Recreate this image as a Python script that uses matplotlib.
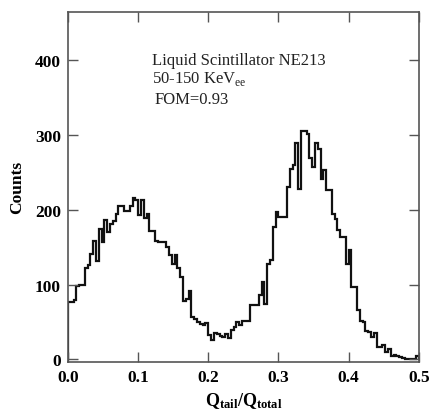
import numpy as np
import matplotlib
matplotlib.use("Agg")
import matplotlib.pyplot as plt

plt.rcParams['font.family'] = ['Liberation Serif', 'DejaVu Serif']
plt.rcParams['mathtext.fontset'] = 'custom'
plt.rcParams['mathtext.rm'] = 'Liberation Serif'
plt.rcParams['mathtext.bf'] = 'Liberation Serif:bold'

# Histogram: 125 bins of width 0.004 from 0 to 0.5
bin_edges = np.linspace(0.0, 0.5, 126)
counts = [
    77, 77, 80, 98, 100, 100, 122, 126, 141, 158,
    132, 174, 157, 186, 170, 181, 185, 194, 205, 205,
    198, 198, 205, 216, 213, 193, 213, 189, 194, 172,
    172, 159, 157, 157, 157, 150, 140, 128, 140, 122,
    110, 78, 81, 92, 57, 54, 50, 47, 46, 49,
    33, 26, 36, 34, 32, 30, 34, 28, 39, 43,
    50, 46, 52, 52, 52, 73, 73, 73, 86, 103,
    74, 128, 133, 177, 197, 191, 190, 190, 231, 255,
    260, 289, 228, 305, 305, 302, 270, 257, 289, 281,
    241, 253, 226, 226, 195, 188, 173, 164, 164, 127,
    146, 97, 97, 66, 52, 50, 38, 37, 30, 35,
    16, 16, 19, 10, 14, 5, 6, 4, 3, 2,
    1, 1, 1, 1, 4,
]
x_ticks = [0.0, 0.1, 0.2, 0.3, 0.4, 0.5]
x_tick_labels = ["0.0", "0.1", "0.2", "0.3", "0.4", "0.5"]
y_ticks = [0, 100, 200, 300, 400]
y_tick_labels = ["0", "100", "200", "300", "400"]

fig = plt.figure(figsize=(4.30, 4.14), dpi=100)
ax = fig.add_axes([0.158, 0.124, 0.816, 0.845])

ax.stairs(counts, bin_edges, color='#111111', linewidth=1.6)

ax.set_xlim(0.0, 0.5)
ax.set_ylim(-3, 465)
ax.set_xticks(x_ticks)
ax.set_xticklabels(x_tick_labels)
ax.set_yticks(y_ticks)
ax.set_yticklabels(y_tick_labels)
ax.tick_params(direction='in', top=True, right=True, length=7, width=1.0,
               labelsize=12.5, color='#555555', pad=5)
for lab in ax.get_xticklabels() + ax.get_yticklabels():
    lab.set_fontweight('bold')
for s in ax.spines.values():
    s.set_linewidth(1.2)
    s.set_color('#555555')

ax.set_ylabel('Counts', fontsize=12.5, fontweight='bold', labelpad=7)
ax.set_xlabel(r'$\mathbf{Q_{tail}/Q_{total}}$', fontsize=13, labelpad=4)

ax.text(0.239, 0.851, 'Liquid Scintillator NE213', transform=ax.transAxes,
        fontsize=12, color='#222222', va='baseline')
ax.text(0.239, 0.800, r'50-150 KeV$_{\mathrm{ee}}$', transform=ax.transAxes,
        fontsize=12, color='#222222', va='baseline')
ax.text(0.247, 0.740, 'FOM=0.93', transform=ax.transAxes,
        fontsize=12, color='#222222', va='baseline')

fig.savefig('out.png', dpi=100)
